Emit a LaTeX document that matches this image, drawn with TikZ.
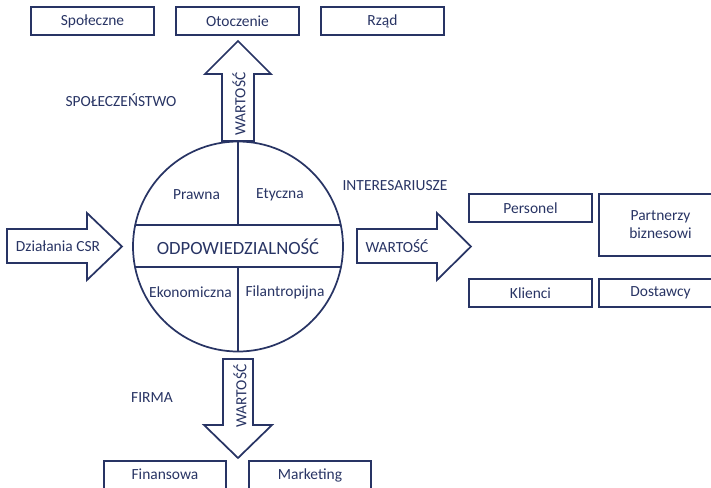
\documentclass[tikz,border=0pt]{standalone}
\usepackage{fontspec}
\setmainfont{Carlito}
\definecolor{navy}{RGB}{40,52,100}

\begin{document}
\begin{tikzpicture}[x=0.75pt,y=-0.75pt]
	\tikzset{every node/.style={text=navy,font=\fontsize{11.6}{13.5}\selectfont}}
	\tikzset{box/.style={draw=navy,line width=1.3pt,minimum width=92pt,minimum height=21pt,inner sep=0pt}}
	\tikzset{bigarrow/.style={draw=navy,line width=1.3pt,line join=miter}}
	\tikzset{heading/.style={font=\fontsize{14}{16}\selectfont}}

	\useasboundingbox (0,0) rectangle (711,487);
	\clip (0,0) rectangle (711,487);

	% top row
	\node[box] (spol) at (92.5,21) {Społeczne};
	\node[box] (otocz) at (237.5,21) {Otoczenie};
	\node[box] (rzad) at (382.5,21) {Rząd};
	\node (spoleczenstwo) at (121,100) {SPOŁECZEŃSTWO};

	% circle
	\node[circle,draw=navy,line width=1.3pt,minimum size=157.5pt,inner sep=0pt] (odp) at (238,246.5) {};
	\begin{scope}
		\clip (238,246.5) circle[radius=78.75pt];
		\draw[navy,line width=1.3pt] (100,225) -- (380,225);
		\draw[navy,line width=1.3pt] (100,267) -- (380,267);
		\draw[navy,line width=1.3pt] (238,130) -- (238,225);
		\draw[navy,line width=1.3pt] (238,267) -- (238,360);
	\end{scope}
	\node (prawna) at (196.5,195) {Prawna};
	\node (etyczna) at (280,195) {Etyczna};
	\node[heading] (odpow) at (238,246.5) {ODPOWIEDZIALNOŚĆ};
	\node (ekon) at (190.5,292) {Ekonomiczna};
	\node (filan) at (285,292) {Filantropijna};

	% arrows
	\draw[bigarrow] (222,141) -- (222,74) -- (205,74) -- (238,41) -- (271,74) -- (254,74) -- (254,141) -- cycle;
	\node[rotate=90] (wup) at (239,104) {WARTOŚĆ};
	\draw[bigarrow] (7,229) -- (87,229) -- (87,213) -- (122,246.5) -- (87,280) -- (87,263) -- (7,263) -- cycle;
	\node (csr) at (58,246.5) {Działania CSR};
	\draw[bigarrow] (357,229) -- (437,229) -- (437,213) -- (471,246.5) -- (437,280) -- (437,263) -- (357,263) -- cycle;
	\node (wright) at (397,246.5) {WARTOŚĆ};
	\draw[bigarrow] (223,359) -- (253,359) -- (253,425) -- (272,425) -- (238,458) -- (204,425) -- (223,425) -- cycle;
	\node[rotate=90] (wdown) at (240,396) {WARTOŚĆ};

	% stakeholders
	\node (inter) at (395,186) {INTERESARIUSZE};
	\node[box] (personel) at (530.5,208) {Personel};
	\node[box,minimum height=46.5pt,align=center] (partn) at (660.5,225) {Partnerzy\\biznesowi};
	\node[box] (klienci) at (530.5,293) {Klienci};
	\node[box] (dost) at (660.5,293) {Dostawcy};

	% company
	\node (firma) at (152,398) {FIRMA};
	\node[box] (fin) at (165,475) {\raisebox{1.5pt}{Finansowa}};
	\node[box] (mark) at (310,475) {\raisebox{1.5pt}{Marketing}};
\end{tikzpicture}
\end{document}
